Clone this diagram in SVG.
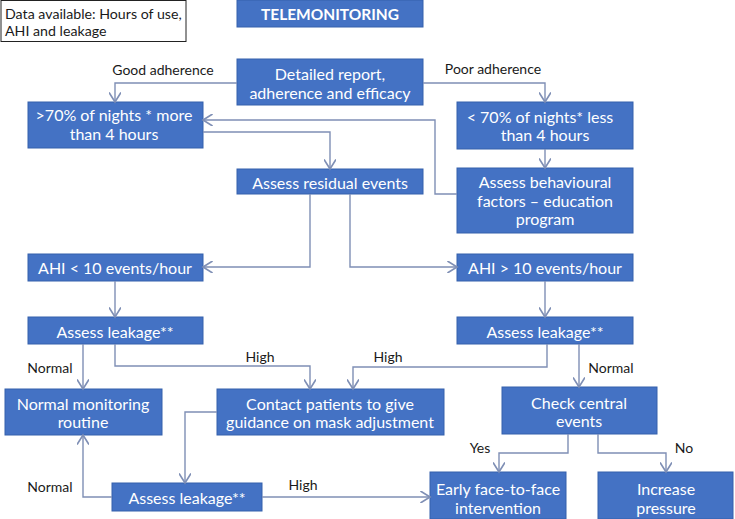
<svg xmlns="http://www.w3.org/2000/svg" width="735" height="519" viewBox="0 0 735 519">
<defs>
<marker id="arr" markerUnits="userSpaceOnUse" markerWidth="12" markerHeight="12" refX="8" refY="5" orient="auto" viewBox="0 0 10 10">
<path d="M0,0 L8,5 L0,10" fill="none" stroke="#7F8FB5" stroke-width="1.4"/>
</marker>
</defs>
<style>
.box{fill:#4472C4;stroke:#3560AC;stroke-width:1}
.t{font-family:Lato,"Open Sans","Liberation Sans",sans-serif;font-size:16px;fill:#fff;text-anchor:middle;dominant-baseline:central}
.lbl{font-family:Lato,"Open Sans","Liberation Sans",sans-serif;font-size:14px;fill:#1a1a1a;text-anchor:middle;dominant-baseline:central}
.c{fill:none;stroke:#7F8FB5;stroke-width:1.4;marker-end:url(#arr)}
</style>
<rect width="735" height="519" fill="#fff"/>
<g id="data">
<rect x="1" y="0.5" width="185" height="41" fill="#fff" stroke="#222" stroke-width="1"/>
<text class="lbl" style="text-anchor:start;font-size:14.2px" x="5" y="13">Data available: Hours of use,</text>
<text class="lbl" style="text-anchor:start;font-size:14.2px" x="5" y="30">AHI and leakage</text>
</g>
<g id="telemonitoring">
<rect class="box" x="237" y="0" width="186" height="27"/>
<text class="t" x="330" y="14" font-weight="bold" style="font-size:15.5px">TELEMONITORING</text>
</g>
<g id="report">
<rect class="box" x="237" y="59" width="186" height="46"/>
<text class="t" x="330" y="73.5">Detailed report,</text>
<text class="t" x="330" y="92">adherence and efficacy</text>
</g>
<g id="good">
<rect class="box" x="28" y="102" width="175" height="46"/>
<text class="t" x="114" y="114.5">&gt;70% of nights * more</text>
<text class="t" x="114" y="133">than 4 hours</text>
</g>
<g id="poor">
<rect class="box" x="457" y="102" width="176" height="47"/>
<text class="t" x="540" y="116">&lt; 70% of nights* less</text>
<text class="t" x="545" y="134.5">than 4 hours</text>
</g>
<g id="behavioural">
<rect class="box" x="457" y="168" width="176" height="65"/>
<text class="t" x="545" y="181.5">Assess behavioural</text>
<text class="t" x="545" y="200">factors – education</text>
<text class="t" x="545" y="218.5">program</text>
</g>
<g id="residual">
<rect class="box" x="237" y="169" width="186" height="25"/>
<text class="t" x="330" y="182">Assess residual events</text>
</g>
<g id="ahi-low">
<rect class="box" x="28" y="254" width="175" height="27"/>
<text class="t" x="115" y="267">AHI &lt; 10 events/hour</text>
</g>
<g id="ahi-high">
<rect class="box" x="457" y="254" width="176" height="27"/>
<text class="t" x="545" y="267">AHI &gt; 10 events/hour</text>
</g>
<g id="leak1">
<rect class="box" x="28" y="317" width="175" height="27"/>
<text class="t" x="115" y="331">Assess leakage**</text>
</g>
<g id="leak2">
<rect class="box" x="457" y="317" width="176" height="27"/>
<text class="t" x="545" y="331">Assess leakage**</text>
</g>
<g id="normal-routine">
<rect class="box" x="5" y="389" width="157" height="46"/>
<text class="t" x="83" y="403">Normal monitoring</text>
<text class="t" x="83" y="421.5">routine</text>
</g>
<g id="contact">
<rect class="box" x="217" y="389" width="227" height="46"/>
<text class="t" x="330" y="403">Contact patients to give</text>
<text class="t" x="330" y="421.5">guidance on mask adjustment</text>
</g>
<g id="central">
<rect class="box" x="502" y="387" width="155" height="47"/>
<text class="t" x="579" y="402">Check central</text>
<text class="t" x="579" y="420.5">events</text>
</g>
<g id="leak3">
<rect class="box" x="112" y="483" width="150" height="28"/>
<text class="t" x="187" y="497">Assess leakage**</text>
</g>
<g id="early">
<rect class="box" x="430" y="472" width="136" height="47"/>
<text class="t" x="498" y="488">Early face-to-face</text>
<text class="t" x="498" y="507">intervention</text>
</g>
<g id="increase">
<rect class="box" x="598" y="472" width="135" height="47"/>
<text class="t" x="666" y="488">Increase</text>
<text class="t" x="666" y="507">pressure</text>
</g>
<g id="connectors">
<path class="c" d="M237,83 H115 V102"/>
<path class="c" d="M423,83 H545 V102"/>
<path class="c" d="M545,149 V168"/>
<path class="c" d="M203,132 H330 V169"/>
<path class="c" d="M457,194 H435 V120 H203"/>
<path class="c" d="M310,194 V267 H203"/>
<path class="c" d="M350,194 V267 H457"/>
<path class="c" d="M115,281 V317"/>
<path class="c" d="M545,281 V317"/>
<path class="c" d="M83,344 V389"/>
<path class="c" d="M115,344 V366 H310 V389"/>
<path class="c" d="M547,344 V367 H353 V389"/>
<path class="c" d="M579,344 V387"/>
<path class="c" d="M217,412 H185 V483"/>
<path class="c" d="M112,497 H83 V435"/>
<path class="c" d="M262,497 H430"/>
<path class="c" d="M568,434 V453 H499 V472"/>
<path class="c" d="M598,434 V453 H666 V472"/>
<text class="lbl" x="163" y="69">Good adherence</text>
<text class="lbl" x="493" y="68">Poor adherence</text>
<text class="lbl" x="50" y="367">Normal</text>
<text class="lbl" x="260" y="356">High</text>
<text class="lbl" x="388" y="356">High</text>
<text class="lbl" x="611" y="367">Normal</text>
<text class="lbl" x="50" y="486">Normal</text>
<text class="lbl" x="303" y="484">High</text>
<text class="lbl" x="480" y="447">Yes</text>
<text class="lbl" x="684" y="447">No</text>
</g>
</svg>
